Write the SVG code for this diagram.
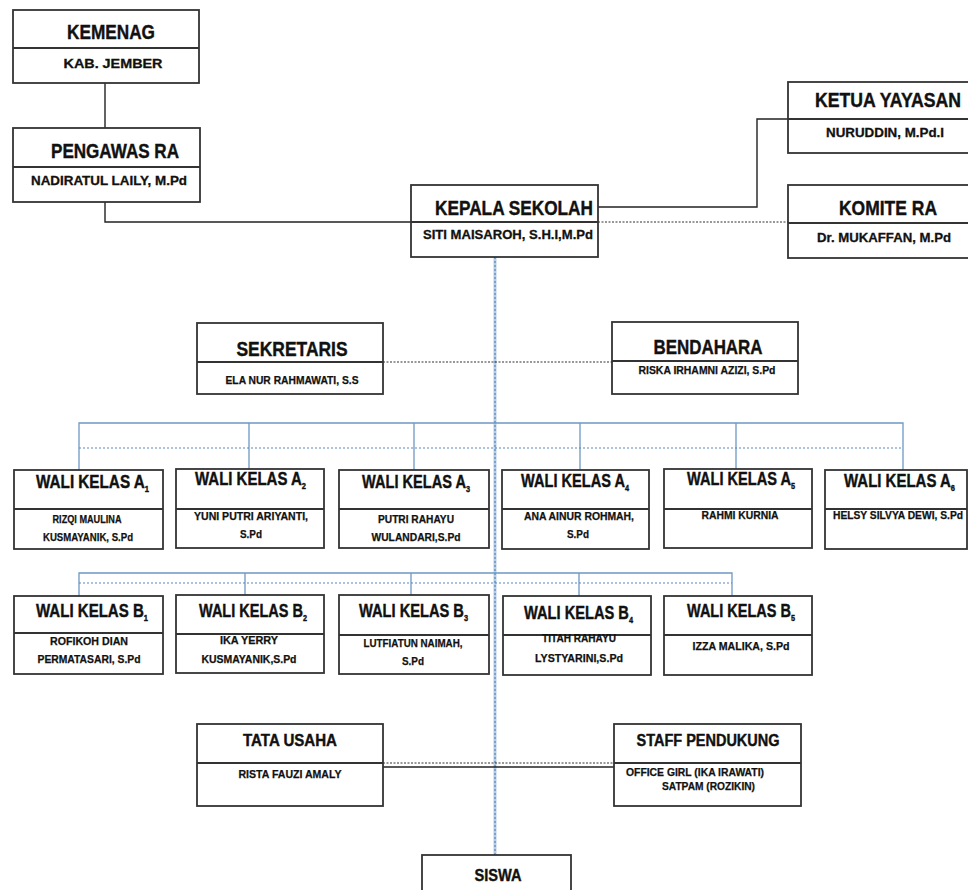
<svg xmlns="http://www.w3.org/2000/svg" width="968" height="890" viewBox="0 0 968 890">
<style>
.box{fill:#fff;stroke:#333;stroke-width:1.8}
.div{stroke:#333;stroke-width:1.8}
.t{font-family:"Liberation Sans",Arial,sans-serif;font-weight:bold;fill:#111;stroke:#111;stroke-width:0.4}
.h{font-size:20px}
.hw{font-size:18px}
.s{font-size:13px;stroke-width:0.3}
.ss{font-size:11px;stroke-width:0.25}
.sub{font-size:9px}
.ln{fill:none;stroke:#222;stroke-width:1.4}
.dot{fill:none;stroke:#333;stroke-width:1.2;stroke-dasharray:2 1.5}
.bl{fill:none;stroke:#6f98c4;stroke-width:1.3}
.bd{fill:none;stroke:#5b87b8;stroke-width:1.2;stroke-dasharray:2 2}
.cl{fill:none;stroke:#b5cde6;stroke-width:3}
</style>
<g id="connectors">
<path class="ln" d="M105 83V128"/>
<path class="ln" d="M105 202V222H411"/>
<path class="ln" d="M598 207H757V119H788"/>
<path class="dot" d="M598 222H788"/>
<path class="cl" d="M495 257V855"/>
<path class="bd" d="M495 257V855"/>
<path class="dot" d="M383 362H612"/>
<path class="bl" d="M79 470V423H903V470M249 423V469M414 423V470M580 423V470M736 423V469"/>
<path class="bd" d="M79 448H903"/>
<path class="bl" d="M79 596V573H732V596M245 573V595M411 573V595M579 573V596"/>
<path class="bd" d="M79 583H732"/>
<path class="dot" d="M383 763H614"/>
<path class="ln" d="M383 767H614"/>
</g>
<g id="kemenag">
<rect class="box" x="13" y="10" width="186" height="73"/>
<line class="div" x1="13" y1="48" x2="199" y2="48"/>
<text class="t h" x="111" y="39" text-anchor="middle" textLength="88" lengthAdjust="spacingAndGlyphs">KEMENAG</text>
<text class="t s" x="113" y="68" text-anchor="middle" textLength="99" lengthAdjust="spacingAndGlyphs">KAB. JEMBER</text>
</g>
<g id="pengawas">
<rect class="box" x="13" y="128" width="187" height="74"/>
<line class="div" x1="13" y1="167" x2="200" y2="167"/>
<text class="t h" x="115" y="158" text-anchor="middle" textLength="128" lengthAdjust="spacingAndGlyphs">PENGAWAS RA</text>
<text class="t s" x="109" y="185" text-anchor="middle" textLength="156" lengthAdjust="spacingAndGlyphs">NADIRATUL LAILY, M.Pd</text>
</g>
<g id="kepala">
<rect class="box" x="411" y="185" width="187" height="72"/>
<line class="div" x1="411" y1="222" x2="598" y2="222"/>
<text class="t h" x="593" y="215" text-anchor="end" textLength="158" lengthAdjust="spacingAndGlyphs">KEPALA SEKOLAH</text>
<text class="t s" x="593" y="239" text-anchor="end" textLength="170" lengthAdjust="spacingAndGlyphs">SITI MAISAROH, S.H.I,M.Pd</text>
</g>
<g id="ketua">
<rect class="box" x="788" y="82" width="182" height="71"/>
<line class="div" x1="788" y1="119" x2="970" y2="119"/>
<text class="t h" x="888" y="107" text-anchor="middle" textLength="146" lengthAdjust="spacingAndGlyphs">KETUA YAYASAN</text>
<text class="t s" x="885" y="137" text-anchor="middle" textLength="118" lengthAdjust="spacingAndGlyphs">NURUDDIN, M.Pd.I</text>
</g>
<g id="komite">
<rect class="box" x="788" y="185" width="182" height="73"/>
<line class="div" x1="788" y1="223" x2="970" y2="223"/>
<text class="t h" x="888" y="215" text-anchor="middle" textLength="98" lengthAdjust="spacingAndGlyphs">KOMITE RA</text>
<text class="t s" x="884" y="242" text-anchor="middle" textLength="134" lengthAdjust="spacingAndGlyphs">Dr. MUKAFFAN, M.Pd</text>
</g>
<g id="sekretaris">
<rect class="box" x="197" y="323" width="186" height="71"/>
<line class="div" x1="197" y1="362" x2="383" y2="362"/>
<text class="t h" x="292" y="356" text-anchor="middle" textLength="111" lengthAdjust="spacingAndGlyphs">SEKRETARIS</text>
<text class="t ss" x="292" y="384" text-anchor="middle" textLength="133" lengthAdjust="spacingAndGlyphs">ELA NUR RAHMAWATI, S.S</text>
</g>
<g id="bendahara">
<rect class="box" x="612" y="322" width="186" height="72"/>
<line class="div" x1="612" y1="361" x2="798" y2="361"/>
<text class="t h" x="708" y="354" text-anchor="middle" textLength="109" lengthAdjust="spacingAndGlyphs">BENDAHARA</text>
<text class="t ss" x="707" y="374" text-anchor="middle" textLength="137" lengthAdjust="spacingAndGlyphs">RISKA IRHAMNI AZIZI, S.Pd</text>
</g>
<g id="wali-a1">
<rect class="box" x="14" y="470" width="149" height="79"/>
<line class="div" x1="14" y1="509" x2="163" y2="509"/>
<text class="t hw" x="36" y="488" textLength="113" lengthAdjust="spacingAndGlyphs">WALI KELAS A<tspan class="sub" dy="4">1</tspan></text>
<text class="t ss" x="87" y="523" text-anchor="middle" textLength="69" lengthAdjust="spacingAndGlyphs">RIZQI MAULINA</text>
<text class="t ss" x="88" y="541" text-anchor="middle" textLength="90" lengthAdjust="spacingAndGlyphs">KUSMAYANIK, S.Pd</text>
</g>
<g id="wali-a2">
<rect class="box" x="176" y="469" width="148" height="79"/>
<line class="div" x1="176" y1="509" x2="324" y2="509"/>
<text class="t hw" x="195" y="485" textLength="111" lengthAdjust="spacingAndGlyphs">WALI KELAS A<tspan class="sub" dy="4">2</tspan></text>
<text class="t ss" x="251" y="520" text-anchor="middle" textLength="114" lengthAdjust="spacingAndGlyphs">YUNI PUTRI ARIYANTI,</text>
<text class="t ss" x="251" y="538" text-anchor="middle" textLength="22" lengthAdjust="spacingAndGlyphs">S.Pd</text>
</g>
<g id="wali-a3">
<rect class="box" x="339" y="470" width="150" height="78"/>
<line class="div" x1="339" y1="509" x2="489" y2="509"/>
<text class="t hw" x="362" y="488" textLength="108" lengthAdjust="spacingAndGlyphs">WALI KELAS A<tspan class="sub" dy="4">3</tspan></text>
<text class="t ss" x="416" y="523" text-anchor="middle" textLength="76" lengthAdjust="spacingAndGlyphs">PUTRI RAHAYU</text>
<text class="t ss" x="416" y="541" text-anchor="middle" textLength="89" lengthAdjust="spacingAndGlyphs">WULANDARI,S.Pd</text>
</g>
<g id="wali-a4">
<rect class="box" x="502" y="470" width="147" height="79"/>
<line class="div" x1="502" y1="509" x2="649" y2="509"/>
<text class="t hw" x="521" y="487" textLength="108" lengthAdjust="spacingAndGlyphs">WALI KELAS A<tspan class="sub" dy="4">4</tspan></text>
<text class="t ss" x="579" y="520" text-anchor="middle" textLength="110" lengthAdjust="spacingAndGlyphs">ANA AINUR ROHMAH,</text>
<text class="t ss" x="578" y="538" text-anchor="middle" textLength="22" lengthAdjust="spacingAndGlyphs">S.Pd</text>
</g>
<g id="wali-a5">
<rect class="box" x="664" y="469" width="148" height="79"/>
<line class="div" x1="664" y1="509" x2="812" y2="509"/>
<text class="t hw" x="687" y="485" textLength="108" lengthAdjust="spacingAndGlyphs">WALI KELAS A<tspan class="sub" dy="4">5</tspan></text>
<text class="t ss" x="740" y="519" text-anchor="middle" textLength="77" lengthAdjust="spacingAndGlyphs">RAHMI KURNIA</text>
</g>
<g id="wali-a6">
<rect class="box" x="825" y="470" width="142" height="79"/>
<line class="div" x1="825" y1="509" x2="967" y2="509"/>
<text class="t hw" x="844" y="487" textLength="111" lengthAdjust="spacingAndGlyphs">WALI KELAS A<tspan class="sub" dy="4">6</tspan></text>
<text class="t ss" x="898" y="519" text-anchor="middle" textLength="130" lengthAdjust="spacingAndGlyphs">HELSY SILVYA DEWI, S.Pd</text>
</g>
<g id="wali-b1">
<rect class="box" x="14" y="596" width="149" height="78"/>
<line class="div" x1="14" y1="633" x2="163" y2="633"/>
<text class="t hw" x="36" y="617" textLength="112" lengthAdjust="spacingAndGlyphs">WALI KELAS B<tspan class="sub" dy="4">1</tspan></text>
<text class="t ss" x="89" y="645" text-anchor="middle" textLength="78" lengthAdjust="spacingAndGlyphs">ROFIKOH DIAN</text>
<text class="t ss" x="89" y="663" text-anchor="middle" textLength="103" lengthAdjust="spacingAndGlyphs">PERMATASARI, S.Pd</text>
</g>
<g id="wali-b2">
<rect class="box" x="176" y="595" width="148" height="78"/>
<line class="div" x1="176" y1="634" x2="324" y2="634"/>
<text class="t hw" x="199" y="617" textLength="108" lengthAdjust="spacingAndGlyphs">WALI KELAS B<tspan class="sub" dy="4">2</tspan></text>
<text class="t ss" x="249" y="644" text-anchor="middle" textLength="58" lengthAdjust="spacingAndGlyphs">IKA YERRY</text>
<text class="t ss" x="249" y="663" text-anchor="middle" textLength="95" lengthAdjust="spacingAndGlyphs">KUSMAYANIK,S.Pd</text>
</g>
<g id="wali-b3">
<rect class="box" x="339" y="595" width="150" height="79"/>
<line class="div" x1="339" y1="635" x2="489" y2="635"/>
<text class="t hw" x="359" y="617" textLength="109" lengthAdjust="spacingAndGlyphs">WALI KELAS B<tspan class="sub" dy="4">3</tspan></text>
<text class="t ss" x="413" y="647" text-anchor="middle" textLength="99" lengthAdjust="spacingAndGlyphs">LUTFIATUN NAIMAH,</text>
<text class="t ss" x="413" y="665" text-anchor="middle" textLength="22" lengthAdjust="spacingAndGlyphs">S.Pd</text>
</g>
<g id="wali-b4">
<rect class="box" x="503" y="596" width="148" height="79"/>
<line class="div" x1="503" y1="635" x2="651" y2="635"/>
<text class="t hw" x="524" y="619" textLength="109" lengthAdjust="spacingAndGlyphs">WALI KELAS B<tspan class="sub" dy="4">4</tspan></text>
<text class="t ss" x="579" y="642" text-anchor="middle" textLength="74" lengthAdjust="spacingAndGlyphs">TITAH RAHAYU</text>
<text class="t ss" x="579" y="662" text-anchor="middle" textLength="88" lengthAdjust="spacingAndGlyphs">LYSTYARINI,S.Pd</text>
</g>
<g id="wali-b5">
<rect class="box" x="664" y="596" width="148" height="79"/>
<line class="div" x1="664" y1="635" x2="812" y2="635"/>
<text class="t hw" x="687" y="617" textLength="108" lengthAdjust="spacingAndGlyphs">WALI KELAS B<tspan class="sub" dy="4">5</tspan></text>
<text class="t ss" x="741" y="650" text-anchor="middle" textLength="97" lengthAdjust="spacingAndGlyphs">IZZA MALIKA, S.Pd</text>
</g>
<g id="tata-usaha">
<rect class="box" x="197" y="724" width="186" height="82"/>
<line class="div" x1="197" y1="763" x2="383" y2="763"/>
<text class="t" font-size="16" x="290" y="746" text-anchor="middle" textLength="94" lengthAdjust="spacingAndGlyphs">TATA USAHA</text>
<text class="t ss" x="290" y="778" text-anchor="middle" textLength="103" lengthAdjust="spacingAndGlyphs">RISTA FAUZI AMALY</text>
</g>
<g id="staff">
<rect class="box" x="614" y="724" width="187" height="82"/>
<line class="div" x1="614" y1="763" x2="801" y2="763"/>
<text class="t" font-size="16" x="708" y="746" text-anchor="middle" textLength="143" lengthAdjust="spacingAndGlyphs">STAFF PENDUKUNG</text>
<text class="t ss" x="626" y="776" textLength="138" lengthAdjust="spacingAndGlyphs">OFFICE GIRL (IKA IRAWATI)</text>
<text class="t ss" x="662" y="790" textLength="93" lengthAdjust="spacingAndGlyphs">SATPAM (ROZIKIN)</text>
</g>
<g id="siswa">
<rect class="box" x="422" y="855" width="149" height="40"/>
<text class="t" font-size="17" x="498" y="881" text-anchor="middle" textLength="47" lengthAdjust="spacingAndGlyphs">SISWA</text>
</g>
</svg>
